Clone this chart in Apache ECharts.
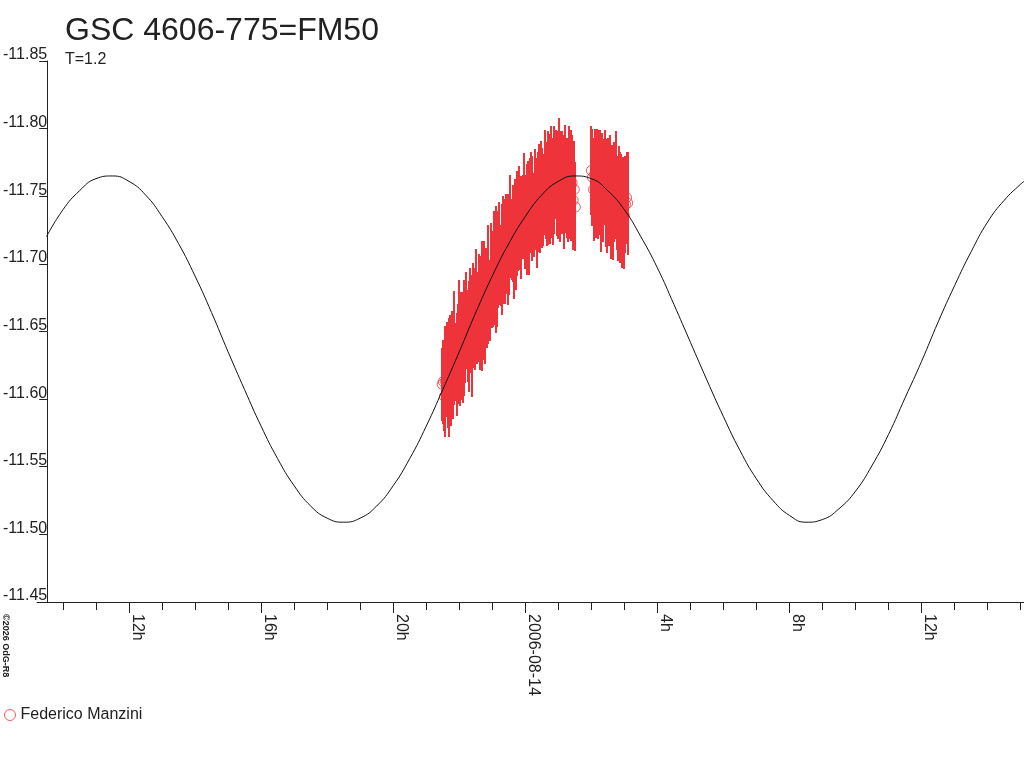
<!DOCTYPE html>
<html>
<head>
<meta charset="utf-8">
<title>GSC 4606-775=FM50</title>
<script src="https://cdn.jsdelivr.net/npm/echarts@6/dist/echarts.min.js"></script>
<style>
html, body { margin: 0; padding: 0; background: #fff; }
#chart { width: 1024px; height: 768px; }
</style>
</head>
<body>
<div id="chart"></div>
<script>
const chartTitle = 'GSC 4606-775=FM50';
const chartSubtitle = 'T=1.2';
const observer = 'Federico Manzini';
const credit = '\u00a92026 OdG-R8';

// x axis: hours from 2006-08-14 00:00 UT
const majorHours = [-12, -8, -4, 0, 4, 8, 12];
const minorHours = [-14, -13, -12, -11, -10, -9, -8, -7, -6, -5, -4, -3, -2, -1, 0,
  1, 2, 3, 4, 5, 6, 7, 8, 9, 10, 11, 12, 13, 14, 15];

// fitted curve, every half hour
const fitHours = [-14.5, -14, -13.5, -13, -12.5, -12, -11.5, -11, -10.5, -10,
  -9.5, -9, -8.5, -8, -7.5, -7, -6.5, -6, -5.5, -5,
  -4.5, -4, -3.5, -3, -2.5, -2, -1.5, -1, -0.5, 0,
  0.5, 1, 1.5, 2, 2.5, 3, 3.5, 4, 4.5, 5,
  5.5, 6, 6.5, 7, 7.5, 8, 8.5, 9, 9.5, 10,
  10.5, 11, 11.5, 12, 12.5, 13, 13.5, 14, 14.5, 15, 15.1];
const fitMags = [-11.720, -11.740, -11.754, -11.763, -11.765, -11.761, -11.751, -11.735, -11.715, -11.691,
  -11.664, -11.635, -11.607, -11.580, -11.556, -11.536, -11.521, -11.512, -11.509, -11.512,
  -11.521, -11.536, -11.556, -11.580, -11.607, -11.635, -11.664, -11.691, -11.715, -11.735,
  -11.751, -11.761, -11.765, -11.763, -11.754, -11.740, -11.720, -11.697, -11.670, -11.642,
  -11.614, -11.587, -11.562, -11.541, -11.525, -11.514, -11.509, -11.511, -11.519, -11.532,
  -11.551, -11.574, -11.601, -11.628, -11.657, -11.684, -11.709, -11.731, -11.747, -11.759, -11.761];

// observations: minutes from 2006-08-14 00:00 UT, magnitude, error
const obsMinutes = [
  -151, -149, -147, -145, -143, -141, -139, -137, -135, -133,
  -131, -129, -127, -125, -123, -121, -119, -117, -115, -113,
  -111, -109, -107, -105, -103, -101, -99, -97, -95, -93,
  -91, -89, -87, -85, -83, -81, -79, -77, -75, -73,
  -71, -69, -67, -65, -63, -61, -59, -57, -55, -53,
  -51, -49, -47, -45, -43, -41, -39, -37, -35, -33,
  -31, -29, -27, -25, -23, -21, -19, -17, -15, -13,
  -11, -9, -7, -5, -3, -1, 1, 3, 5, 7,
  9, 11, 13, 15, 17, 19, 21, 23, 25, 27,
  29, 31, 33, 35, 37, 39, 41, 43, 45, 47,
  49, 51, 53, 55, 57, 59, 61, 63, 65, 67,
  69, 71, 73, 75, 77, 79, 81, 83, 85, 87,
  89, 91,
  120, 122, 124, 126, 128, 130, 132, 134, 136, 138,
  140, 142, 144, 146, 148, 150, 152, 154, 156, 158,
  160, 162, 164, 166, 168, 170, 172, 174, 176, 178,
  180, 182, 184, 186];
const obsMags = [
  -11.611, -11.613, -11.602, -11.613, -11.622, -11.611, -11.616, -11.626, -11.611, -11.626,
  -11.619, -11.638, -11.627, -11.626, -11.637, -11.642, -11.630, -11.639, -11.647, -11.634,
  -11.645, -11.642, -11.658, -11.647, -11.646, -11.658, -11.658, -11.647, -11.666, -11.660,
  -11.653, -11.669, -11.660, -11.667, -11.657, -11.673, -11.669, -11.667, -11.685, -11.667,
  -11.677, -11.675, -11.685, -11.673, -11.691, -11.688, -11.686, -11.697, -11.702, -11.696,
  -11.686, -11.703, -11.708, -11.699, -11.703, -11.716, -11.709, -11.703, -11.715, -11.719,
  -11.711, -11.710, -11.728, -11.718, -11.722, -11.716, -11.731, -11.716, -11.730, -11.726,
  -11.737, -11.728, -11.727, -11.735, -11.746, -11.730, -11.736, -11.733, -11.743, -11.729,
  -11.743, -11.751, -11.741, -11.736, -11.749, -11.744, -11.735, -11.750, -11.749, -11.743,
  -11.759, -11.749, -11.747, -11.760, -11.754, -11.746, -11.756, -11.761, -11.753, -11.768,
  -11.756, -11.750, -11.762, -11.766, -11.759, -11.754, -11.770, -11.757, -11.764, -11.760,
  -11.759, -11.746, -11.763, -11.756, -11.750, -11.764, -11.754, -11.758, -11.760, -11.747,
  -11.755, -11.742,
  -11.769, -11.764, -11.755, -11.766, -11.759, -11.770, -11.755, -11.760, -11.765, -11.750,
  -11.761, -11.754, -11.764, -11.752, -11.745, -11.759, -11.752, -11.759, -11.746, -11.753,
  -11.741, -11.753, -11.758, -11.744, -11.741, -11.751, -11.742, -11.746, -11.735, -11.742,
  -11.736, -11.744, -11.749, -11.745];
const obsErrs = [
  0.027, 0.031, 0.026, 0.041, 0.035, 0.032, 0.044, 0.036, 0.031, 0.039,
  0.034, 0.042, 0.029, 0.038, 0.033, 0.046, 0.035, 0.040, 0.032, 0.037,
  0.043, 0.030, 0.036, 0.034, 0.041, 0.039, 0.032, 0.045, 0.035, 0.037,
  0.031, 0.042, 0.034, 0.040, 0.036, 0.033, 0.048, 0.038, 0.032, 0.041,
  0.035, 0.037, 0.044, 0.030, 0.039, 0.036, 0.033, 0.042, 0.035, 0.047,
  0.032, 0.036, 0.038, 0.030, 0.041, 0.034, 0.039, 0.033, 0.037, 0.031,
  0.041, 0.033, 0.038, 0.030, 0.036, 0.042, 0.032, 0.035, 0.039, 0.031,
  0.035, 0.032, 0.038, 0.031, 0.036, 0.034, 0.030, 0.041, 0.033, 0.037,
  0.035, 0.032, 0.039, 0.031, 0.036, 0.034, 0.038, 0.033, 0.040, 0.035,
  0.032, 0.037, 0.034, 0.039, 0.036, 0.033, 0.042, 0.035, 0.038, 0.034,
  0.037, 0.036, 0.040, 0.033, 0.039, 0.035, 0.038, 0.041, 0.034, 0.038,
  0.036, 0.035, 0.040, 0.037, 0.034, 0.038, 0.036, 0.041, 0.035, 0.037,
  0.036, 0.033,
  0.033, 0.036, 0.038, 0.034, 0.040, 0.030, 0.037, 0.039, 0.034, 0.041,
  0.036, 0.038, 0.035, 0.040, 0.037, 0.034, 0.039, 0.036, 0.042, 0.035,
  0.038, 0.037, 0.040, 0.034, 0.039, 0.036, 0.041, 0.035, 0.038, 0.037,
  0.040, 0.036, 0.034, 0.038];

const RED = '#ee333a';
const INK = '#222';
const FONT = '"Liberation Sans", Arial, sans-serif';

const obsData = obsMinutes.map((m, i) => [m / 60, obsMags[i], obsErrs[i]]);
const fitData = fitHours.map((h, i) => [h, fitMags[i]]);

function hourLabel(v) {
    if (v === 0) return '2006-08-14';
    return ((v + 24) % 24) + 'h';
}

// vertical error bar snapped to whole pixels; two columns wide so the dense run reads as a solid band
function renderErrorBar(params, api) {
    const h = api.value(0);
    const top = api.coord([h, api.value(1) - api.value(2)]);
    const bottom = api.coord([h, api.value(1) + api.value(2)]);
    return {
        type: 'rect',
        shape: { x: Math.round(top[0]) - 1, y: Math.round(top[1]), width: 2, height: Math.round(bottom[1] - top[1]) },
        style: { fill: RED, stroke: null }
    };
}

const chart = echarts.init(document.getElementById('chart'));
chart.setOption({
    animation: false,
    backgroundColor: '#fff',
    textStyle: { fontFamily: FONT },
    title: [
        {
            text: chartTitle, left: 60, top: 10,
            textStyle: { fontSize: 32, fontWeight: 'normal', color: INK, fontFamily: FONT }
        },
        {
            text: chartSubtitle, left: 60, top: 47,
            textStyle: { fontSize: 16, fontWeight: 'normal', color: INK, fontFamily: FONT }
        }
    ],
    legend: {
        left: 4, top: 707, padding: 0,
        itemWidth: 11, itemHeight: 11, itemGap: 5,
        icon: 'circle',
        textStyle: { fontSize: 16, color: INK, fontFamily: FONT },
        data: [{
            name: observer,
            itemStyle: { color: 'rgba(0,0,0,0)', borderColor: RED, borderWidth: 1 }
        }]
    },
    grid: { left: 36, right: 0, top: 61, bottom: 166 },
    xAxis: [
        {
            type: 'value', min: -14.78, max: 15.1, position: 'bottom',
            axisLine: { onZero: false, lineStyle: { color: INK, width: 1 } },
            axisTick: { customValues: majorHours, length: 11, lineStyle: { color: INK } },
            axisLabel: {
                customValues: majorHours, formatter: hourLabel,
                rotate: -90, margin: 12, verticalAlign: 'bottom',
                fontSize: 16, color: INK, fontFamily: FONT
            },
            splitLine: { show: false }
        },
        {
            type: 'value', min: -14.78, max: 15.1, position: 'bottom',
            axisLine: { show: false, onZero: false },
            axisTick: { customValues: minorHours, length: 8, lineStyle: { color: INK } },
            axisLabel: { show: false },
            splitLine: { show: false }
        }
    ],
    yAxis: {
        type: 'value', min: -11.85, max: -11.45, interval: 0.05,
        inverse: true, offset: -10,
        axisLine: { show: true, onZero: false, lineStyle: { color: INK, width: 1 } },
        axisTick: { show: true, length: 8, lineStyle: { color: INK } },
        axisLabel: {
            formatter: v => v.toFixed(2),
            margin: 0, verticalAlign: 'bottom', lineHeight: 12,
            fontSize: 16, color: INK, fontFamily: FONT
        },
        splitLine: { show: false }
    },
    graphic: [{
        type: 'text', x: 1, y: 614, rotation: -Math.PI / 2,
        style: {
            text: credit, fontSize: 9, fontWeight: 'bold', fill: INK,
            fontFamily: FONT, align: 'left', verticalAlign: 'bottom'
        }
    }],
    series: [
        {
            name: observer, type: 'scatter', data: obsData,
            symbol: 'circle', symbolSize: 10,
            itemStyle: { color: 'rgba(0,0,0,0)', borderColor: RED, borderWidth: 1 },
            encode: { x: 0, y: 1 },
            z: 2
        },
        {
            type: 'custom', data: obsData, renderItem: renderErrorBar,
            encode: { x: 0, y: 1 },
            z: 3
        },
        {
            type: 'line', data: fitData, smooth: true, showSymbol: false,
            lineStyle: { color: '#111', width: 1 },
            z: 4
        }
    ]
});
window.addEventListener('resize', () => chart.resize());
</script>
</body>
</html>
